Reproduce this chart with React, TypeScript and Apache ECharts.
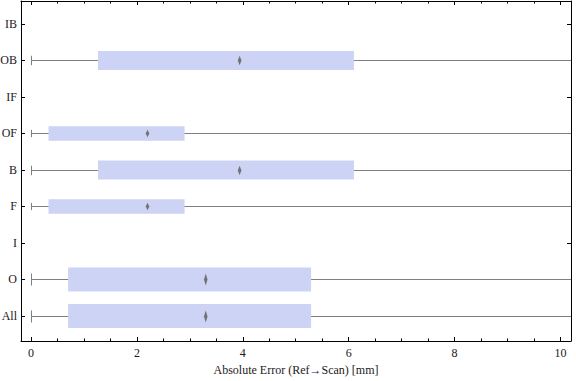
import React, { useEffect, useRef } from "react";
import * as echarts from "echarts";

// Categories from bottom (index 0) to top (index 8)
const categories = ["All", "O", "I", "F", "B", "OF", "IF", "OB", "IB"];
const whiskerLow = [0, 0, null, 0, 0, 0, null, 0, null];
const quartile1 = [0.7, 0.7, null, 0.33, 1.265, 0.33, null, 1.265, null];
const medians = [3.3, 3.3, null, 2.2, 3.94, 2.2, null, 3.94, null];
const quartile3 = [5.29, 5.29, null, 2.9, 6.1, 2.9, null, 6.1, null];
const whiskerHigh = [12, 12, null, 12, 12, 12, null, 12, null];
const boxWidths = [0.66, 0.66, 0, 0.4, 0.52, 0.4, 0, 0.52, 0];

const majorTicks = [0, 2, 4, 6, 8, 10];
const minorTicks = [0.5, 1, 1.5, 2.5, 3, 3.5, 4.5, 5, 5.5, 6.5, 7, 7.5, 8.5, 9, 9.5];
const catTicks = [0, 1, 2, 3, 4, 5, 6, 7, 8];

const X_MIN = -0.19;
const X_MAX = 10.2;
const Y_MIN = -0.685;
const Y_MAX = 8.63;

const FONT = "Liberation Serif";
const TEXT = "#1a1a1a";

export default function App() {
  const ref = useRef<HTMLDivElement>(null);
  useEffect(() => {
    if (!ref.current) return;
    const chart = echarts.init(ref.current, null, { renderer: "svg" });
    const data: any[] = [];
    categories.forEach((_, i) => {
      if (medians[i] == null) return;
      data.push([i, whiskerLow[i], quartile1[i], medians[i], quartile3[i], whiskerHigh[i], boxWidths[i]]);
    });

    const xBase = (position: string, ticks: number[], len: number, showLine: boolean, showLabel: boolean, extra: any = {}) => ({
      type: "value",
      min: X_MIN,
      max: X_MAX,
      position,
      axisLine: { show: showLine, onZero: false, lineStyle: { color: "#000", width: 1 } },
      axisTick: { show: true, inside: true, length: len, customValues: ticks, lineStyle: { color: "#000", width: 1 } },
      axisLabel: showLabel
        ? { show: true, customValues: majorTicks, fontFamily: FONT, fontSize: 12, color: TEXT, margin: 6 }
        : { show: false },
      splitLine: { show: false },
      ...extra,
    });

    const option: any = {
      animation: false,
      grid: { left: 21, right: 5, top: 1, bottom: 40, containLabel: false, outerBoundsMode: "none" },
      xAxis: [
        xBase("bottom", majorTicks, 4, true, true, {
          name: "Absolute Error (Ref\u2192Scan) [mm]",
          nameLocation: "middle",
          nameGap: 23,
          nameTextStyle: { fontFamily: FONT, fontSize: 12, color: TEXT },
        }),
        xBase("bottom", minorTicks, 2.5, false, false),
        xBase("top", majorTicks, 4, true, false),
        xBase("top", minorTicks, 2.5, false, false),
      ],
      yAxis: [
        {
          type: "value",
          min: Y_MIN,
          max: Y_MAX,
          position: "left",
          axisLine: { show: true, onZero: false, lineStyle: { color: "#000", width: 1 } },
          axisTick: { show: true, inside: true, length: 4, customValues: catTicks, lineStyle: { color: "#000" } },
          axisLabel: {
            show: true,
            customValues: catTicks,
            formatter: (v: number) => categories[Math.round(v)] ?? "",
            fontFamily: FONT,
            fontSize: 12,
            color: TEXT,
            margin: 4,
          },
          splitLine: { show: false },
        },
        {
          type: "value",
          min: Y_MIN,
          max: Y_MAX,
          position: "right",
          axisLine: { show: true, onZero: false, lineStyle: { color: "#000", width: 1 } },
          axisTick: { show: true, inside: true, length: 4, customValues: catTicks, lineStyle: { color: "#000" } },
          axisLabel: { show: false },
          splitLine: { show: false },
        },
      ],
      series: [
        {
          type: "custom",
          xAxisIndex: 0,
          yAxisIndex: 0,
          clip: true,
          encode: { x: [1, 2, 3, 4, 5], y: 0 },
          data,
          renderItem: (params: any, api: any) => {
            const y = api.value(0);
            const pLo = api.coord([api.value(1), y]);
            const pQ1 = api.coord([api.value(2), y]);
            const pMed = api.coord([api.value(3), y]);
            const pQ3 = api.coord([api.value(4), y]);
            const pHi = api.coord([api.value(5), y]);
            const h = api.size([0, api.value(6)])[1];
            const cy = Math.round(pLo[1]) + 0.5;
            const cap = h / 2;
            const dh = h / 2;
            const dw = 1.8;
            return {
              type: "group",
              children: [
                {
                  type: "line",
                  shape: { x1: pLo[0], y1: cy, x2: pHi[0], y2: cy },
                  style: { stroke: "#808080", lineWidth: 1 },
                },
                {
                  type: "line",
                  shape: { x1: Math.round(pLo[0]) + 0.5, y1: cy - cap / 2, x2: Math.round(pLo[0]) + 0.5, y2: cy + cap / 2 },
                  style: { stroke: "#808080", lineWidth: 1 },
                },
                {
                  type: "rect",
                  shape: { x: pQ1[0], y: pQ1[1] - h / 2, width: pQ3[0] - pQ1[0], height: h },
                  style: { fill: "#ccd3f4" },
                },
                {
                  type: "polygon",
                  shape: {
                    points: [
                      [pMed[0], cy - dh / 2],
                      [pMed[0] + dw, cy],
                      [pMed[0], cy + dh / 2],
                      [pMed[0] - dw, cy],
                    ],
                  },
                  style: { fill: "#737373" },
                },
              ],
            };
          },
        },
      ],
    };
    chart.setOption(option);
    return () => chart.dispose();
  }, []);
  return (
    <div
      ref={ref}
      style={{ position: "fixed", left: 0, top: 0, width: 576, height: 381, background: "#fff" }}
    />
  );
}
